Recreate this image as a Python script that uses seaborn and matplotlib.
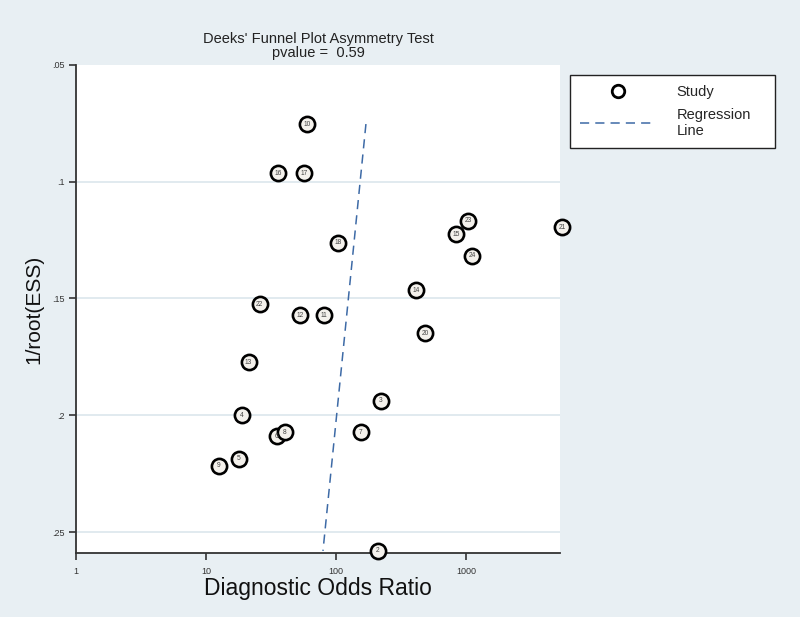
import numpy as np
import pandas as pd
import matplotlib.pyplot as plt
import matplotlib.ticker as mticker
from matplotlib.lines import Line2D
import seaborn as sns

# study labels, diagnostic odds ratio and 1/sqrt(ESS)
study_ids = ["10", "16", "17", "18", "22", "12", "11", "13", "4", "6", "8",
             "5", "9", "7", "3", "2", "14", "20", "15", "23", "24", "21"]
dor = [59.3, 35.5, 56.2, 102.8, 25.8, 52.4, 80.1, 21.2, 18.7, 34.9, 40.2,
       17.8, 12.5, 154, 220, 208, 409, 480, 830, 1027, 1103, 5430]
inv_root_ess = [0.0753, 0.0963, 0.0963, 0.1262, 0.1524, 0.1571, 0.1571,
                0.1772, 0.1999, 0.2089, 0.2072, 0.2187, 0.2217, 0.2072,
                0.1939, 0.2581, 0.1464, 0.1648, 0.1224, 0.1168, 0.1318, 0.1194]

# Deeks regression: log10(DOR) = a + b * 1/root(ESS)
reg_intercept = 2.364
reg_slope = -1.806
p_value = 0.59

x_ticks = [1, 10, 100, 1000]
y_ticks = [0.05, 0.10, 0.15, 0.20, 0.25]

df = pd.DataFrame({"study": study_ids, "dor": dor, "y": inv_root_ess})
y_line = np.array([df["y"].min(), df["y"].max()])
line_df = pd.DataFrame({"y": y_line, "dor": 10 ** (reg_intercept + reg_slope * y_line)})

bg = "#E8EFF3"
sns.set_theme(style="white")
plt.rcParams["font.family"] = ["Liberation Sans", "DejaVu Sans"]

fig = plt.figure(figsize=(8, 6.17), dpi=100, facecolor=bg)
ax = fig.add_axes([0.095, 0.1037, 0.605, 0.791])
ax.set_facecolor("white")

ax.set_xscale("log")
ax.set_xlim(1, 5240)
ax.set_ylim(0.259, 0.05)

for yv in y_ticks[1:]:
    ax.axhline(yv, color="#DCE6EC", lw=1.2, zorder=0)

sns.lineplot(data=line_df, x="dor", y="y", sort=False, estimator=None, ax=ax,
             color="#3D6AA6", lw=1.1, linestyle=(0, (6, 4)), zorder=2)

sns.scatterplot(data=df, x="dor", y="y", ax=ax, s=120, marker="o",
                facecolor="#F4F1EC", edgecolor="black", linewidth=1.9,
                zorder=3, clip_on=False)

for _, r in df.iterrows():
    ax.text(r["dor"], r["y"], r["study"], ha="center", va="center",
            fontsize=4.8, color="#444444", zorder=4, clip_on=False)

ax.set_xticks(x_ticks)
ax.xaxis.set_major_formatter(mticker.FuncFormatter(lambda v, p: f"{v:g}"))
ax.xaxis.set_minor_locator(mticker.NullLocator())
ax.set_yticks(y_ticks)
ax.yaxis.set_major_formatter(mticker.FuncFormatter(
    lambda v, p: f"{v:.2f}".lstrip("0").rstrip("0")))

ax.tick_params(axis="both", which="major", direction="out", length=5, width=1.2,
               bottom=True, left=True, labelsize=6.5, color="#333333",
               labelcolor="#333333")
ax.tick_params(axis="x", pad=5)

for side in ["top", "right"]:
    ax.spines[side].set_visible(False)
for side in ["left", "bottom"]:
    ax.spines[side].set_color("#333333")
    ax.spines[side].set_linewidth(1.3)

ax.set_title("Deeks' Funnel Plot Asymmetry Test\npvalue =  %.2f" % p_value,
             fontsize=10.5, color="#222222", pad=6, linespacing=1.0)
ax.set_xlabel("Diagnostic Odds Ratio", fontsize=16.5, color="#111111", labelpad=1)
ax.set_ylabel("1/root(ESS)", fontsize=15, color="#111111", labelpad=6)

handles = [
    Line2D([], [], marker="o", linestyle="none", markersize=9,
           markerfacecolor="white", markeredgecolor="black", markeredgewidth=2),
    Line2D([], [], color="#3D6AA6", lw=1.1, linestyle=(0, (6, 4))),
]
leg = fig.legend(handles, ["Study", "Regression\nLine"], loc="upper left",
                 bbox_to_anchor=(570 / 800, 1 - 75 / 617, 205 / 800, 0),
                 mode="expand", frameon=True, fancybox=False, framealpha=1,
                 fontsize=10.5, handlelength=5.2, handletextpad=1.4,
                 labelspacing=0.6, borderpad=0.7, borderaxespad=0)
leg.get_frame().set_edgecolor("#222222")
leg.get_frame().set_linewidth(1.0)
leg.get_frame().set_facecolor("white")

fig.savefig("out.png", dpi=100, facecolor=bg)
